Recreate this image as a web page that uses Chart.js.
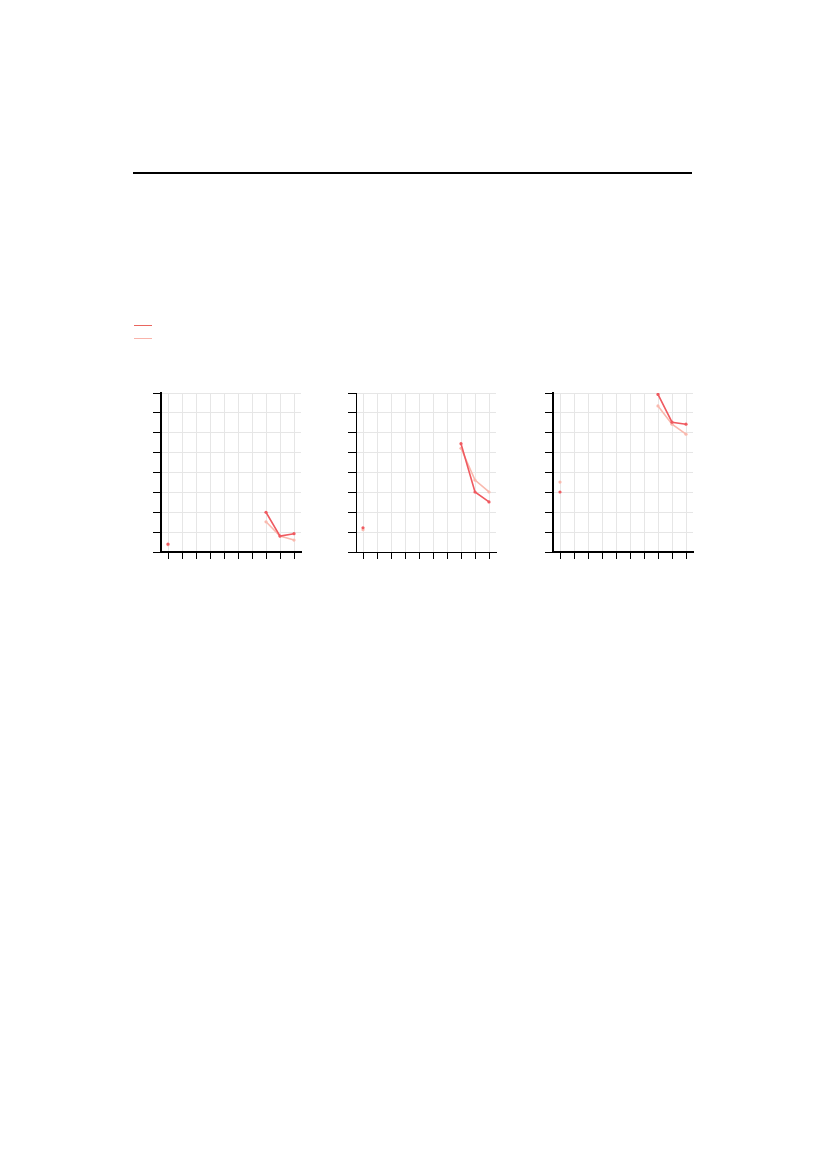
<!DOCTYPE html>
<html>
<head>
<meta charset="utf-8">
<script src="https://cdn.jsdelivr.net/npm/chart.js@4"></script>
<style>
  body { margin: 0; background: #fff; }
  .page { position: relative; width: 827px; height: 1169px; }
  .rule { position: absolute; left: 133px; top: 172px; width: 559px; height: 2px; background: #000; }
  .key { position: absolute; left: 134px; width: 18px; height: 1px; }
  .box { position: absolute; top: 389px; }
</style>
</head>
<body>
<div class="page">
  <div class="rule"></div>
  <div class="key" style="top:325px;background:#e9665f"></div>
  <div class="key" style="top:338px;background:#f9b3aa"></div>
  <div class="box" style="left:153px;width:152px;height:172px"><canvas id="c1"></canvas></div>
  <div class="box" style="left:348px;width:152px;height:172px"><canvas id="c2"></canvas></div>
  <div class="box" style="left:545px;width:152px;height:172px"><canvas id="c3"></canvas></div>
</div>
<script>
const categories = ['1','2','3','4','5','6','7','8','9','10']
const yTicks = [0,1,2,3,4,5,6,7,8]

// panel 1
const darkA  = [0.4, null, null, null, null, null, null, 2.0, 0.8, 0.92]
const lightA = [0.37, null, null, null, null, null, null, 1.52, 0.8, 0.6]
// panel 2
const darkB  = [1.22, null, null, null, null, null, null, 5.45, 3.02, 2.52]
const lightB = [1.12, null, null, null, null, null, null, 5.22, 3.62, 3.02]
// panel 3
const darkC  = [3.02, null, null, null, null, null, null, 7.93, 6.53, 6.43]
const lightC = [3.52, null, null, null, null, null, null, 7.35, 6.43, 5.93]

function makeChart(id, dark, light, axisWidth){
  new Chart(document.getElementById(id), {
    type: 'line',
    data: {
      labels: categories,
      datasets: [{
        data: dark,
        borderColor: '#ef5a60',
        backgroundColor: '#ef5a60',
        borderWidth: 1.6,
        pointRadius: 1.6,
        pointBorderWidth: 0,
        spanGaps: false
      },{
        data: light,
        borderColor: '#f9b9ae',
        backgroundColor: '#f9b9ae',
        borderWidth: 1.6,
        pointRadius: 1.6,
        pointBorderWidth: 0,
        spanGaps: false
      }]
    },
    options: {
      responsive: true,
      maintainAspectRatio: false,
      animation: false,
      layout: { padding: { top: 2, right: 3, left: 0, bottom: 0 } },
      plugins: { legend: { display: false }, tooltip: { enabled: false } },
      scales: {
        x: {
          offset: true,
          grid: { offset: false, color: '#e6e6e6', tickColor: '#000', tickLength: 7, tickWidth: 1 },
          border: { color: '#000', width: axisWidth },
          ticks: { display: false },
          afterFit: s => { s.height = 9 }
        },
        y: {
          min: 0,
          max: 8,
          afterBuildTicks: s => { s.ticks = yTicks.map(v => ({value: v})) },
          grid: { color: '#e6e6e6', tickColor: '#000', tickLength: 8, tickWidth: 1 },
          border: { color: '#000', width: axisWidth },
          ticks: { display: false },
          afterFit: s => { s.width = 8 }
        }
      }
    }
  })
}

makeChart('c1', darkA, lightA, 2)
makeChart('c2', darkB, lightB, 1)
makeChart('c3', darkC, lightC, 2)
</script>
</body>
</html>
